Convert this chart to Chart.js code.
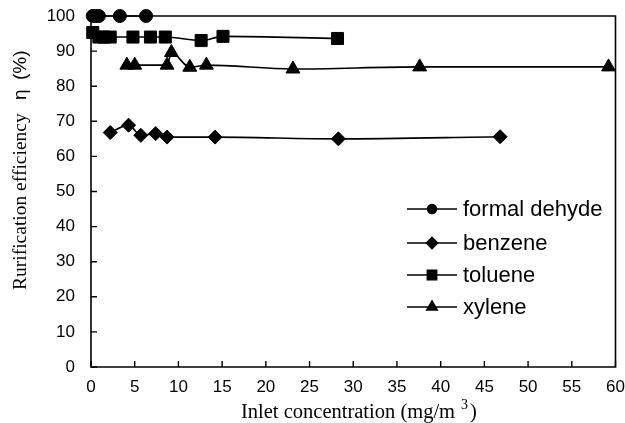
<!DOCTYPE html>
<html>
<head>
<meta charset="utf-8">
<script src="https://cdn.jsdelivr.net/npm/chart.js@4/dist/chart.umd.min.js"></script>
<style>
  html, body { margin: 0; padding: 0; background: #fff; }
  #wrap { width: 625px; height: 423px; position: relative; }
</style>
</head>
<body>
<div id="wrap"><canvas id="chart"></canvas></div>
<script>
// ---------------------------------------------------------------------------
// Data
// ---------------------------------------------------------------------------
const seriesNames = ['formal dehyde', 'benzene', 'toluene', 'xylene'];
const seriesMarkers = ['circle', 'rectRot', 'rect', 'triangle'];

const formaldehydeX = [0.2, 0.5, 0.9, 3.3, 6.3];
const formaldehydeY = [100, 100, 100, 100, 100];

const benzeneX = [2.2, 4.3, 5.7, 7.4, 8.7, 14.2, 28.3, 46.8];
const benzeneY = [66.8, 68.9, 66.0, 66.5, 65.5, 65.5, 65.0, 65.6];

const tolueneX = [0.2, 0.9, 1.5, 2.2, 4.8, 6.8, 8.5, 12.6, 15.1, 28.2];
const tolueneY = [95.3, 94.0, 94.0, 94.0, 94.0, 94.0, 94.0, 93.0, 94.2, 93.6];

const xyleneX = [4.1, 5.0, 8.7, 9.2, 11.3, 13.2, 23.1, 37.6, 59.2];
const xyleneY = [86.0, 86.0, 86.0, 89.6, 85.4, 86.0, 84.9, 85.5, 85.5];

const xTicks = [0, 5, 10, 15, 20, 25, 30, 35, 40, 45, 50, 55, 60];
const yTicks = [0, 10, 20, 30, 40, 50, 60, 70, 80, 90, 100];

// ---------------------------------------------------------------------------
// Helpers
// ---------------------------------------------------------------------------
const SERIF = '"Liberation Serif", "Times New Roman", serif';
const SANS = '"Liberation Sans", Arial, sans-serif';

function toPoints(xs, ys) {
    return xs.map((x, i) => ({ x: x, y: ys[i] }));
}

const markerRadius = { circle: 6.5, rectRot: 7, rect: 8.5, triangle: 8 };
const legendRadius = { circle: 4.5, rectRot: 5.5, rect: 6.5, triangle: 6 };

function makeDataset(label, xs, ys, marker) {
    return {
        label,
        data: toPoints(xs, ys),
        borderColor: '#000',
        backgroundColor: '#000',
        borderWidth: 1.6,
        pointStyle: marker,
        pointRadius: markerRadius[marker],
        pointBorderWidth: 1,
        pointHoverRadius: markerRadius[marker],
        cubicInterpolationMode: 'monotone',
        clip: 12,
    };
}

// Frame, inward ticks, axis titles and the line+marker legend
const framePlugin = {
    id: 'frameDeco',
    afterDraw(chart) {
        const ctx = chart.ctx;
        const sx = chart.scales.x, sy = chart.scales.y;
        const L = sx.left, R = sx.right, T = sy.top, B = sy.bottom;
        ctx.save();
        ctx.strokeStyle = '#000';
        ctx.fillStyle = '#000';
        ctx.lineWidth = 1.6;
        ctx.beginPath();
        ctx.rect(L, T, R - L, B - T);
        ctx.stroke();

        ctx.lineWidth = 1.4;
        ctx.beginPath();
        xTicks.forEach(v => {
            const px = sx.getPixelForValue(v);
            ctx.moveTo(px, B);
            ctx.lineTo(px, B - 6);
        });
        yTicks.forEach(v => {
            const py = sy.getPixelForValue(v);
            ctx.moveTo(L, py);
            ctx.lineTo(L + 6, py);
        });
        ctx.stroke();

        // x title with superscript
        ctx.textBaseline = 'alphabetic';
        ctx.textAlign = 'left';
        ctx.font = '20.5px ' + SERIF;
        ctx.fillText('Inlet concentration (mg/m', 241, 418);
        ctx.font = '14px ' + SERIF;
        ctx.fillText('3', 461, 409);
        ctx.font = '20.5px ' + SERIF;
        ctx.fillText(')', 470, 418);

        // y title, rotated
        ctx.save();
        ctx.translate(26, 290);
        ctx.rotate(-Math.PI / 2);
        ctx.font = '19.5px ' + SERIF;
        ctx.fillText('Rurification efficiency', 0, 0);
        ctx.font = '19px ' + SANS;
        ctx.fillText('\u03b7', 190, 0);
        ctx.fillText('(%)', 210, 0);
        ctx.restore();

        // legend
        const rowsY = [209, 243, 275, 307];
        const x0 = 407, x1 = 457, tx = 463;
        ctx.font = '22px ' + SANS;
        ctx.textBaseline = 'middle';
        seriesNames.forEach((name, i) => {
            const y = rowsY[i];
            ctx.lineWidth = 1.6;
            ctx.beginPath();
            ctx.moveTo(x0, y);
            ctx.lineTo(x1, y);
            ctx.stroke();
            const m = seriesMarkers[i];
            Chart.helpers.drawPoint(ctx, { pointStyle: m, radius: legendRadius[m], borderWidth: 1 }, (x0 + x1) / 2, y);
            ctx.fillText(name, tx, y + 1);
        });
        ctx.restore();
    }
};

// ---------------------------------------------------------------------------
// Chart
// ---------------------------------------------------------------------------
Chart.defaults.color = '#000';
Chart.defaults.font.family = SANS;

new Chart(document.getElementById('chart'), {
    type: 'line',
    data: {
        datasets: [
            makeDataset(seriesNames[0], formaldehydeX, formaldehydeY, seriesMarkers[0]),
            makeDataset(seriesNames[1], benzeneX, benzeneY, seriesMarkers[1]),
            makeDataset(seriesNames[2], tolueneX, tolueneY, seriesMarkers[2]),
            makeDataset(seriesNames[3], xyleneX, xyleneY, seriesMarkers[3]),
        ]
    },
    options: {
        responsive: true,
        maintainAspectRatio: false,
        animation: false,
        layout: { padding: { left: 0, top: 16, right: 8, bottom: 0 } },
        plugins: {
            legend: { display: false },
            tooltip: { enabled: false },
        },
        scales: {
            x: {
                type: 'linear',
                min: 0,
                max: 60,
                afterBuildTicks: (s) => { s.ticks = xTicks.map(v => ({ value: v })); },
                afterFit: (s) => { s.height = 56; s.paddingRight = 0; s.paddingLeft = 0; },
                grid: { display: false, drawTicks: false },
                border: { display: false },
                ticks: { font: { size: 17 }, padding: 10, maxRotation: 0, autoSkip: false },
            },
            y: {
                min: 0,
                max: 100,
                afterBuildTicks: (s) => { s.ticks = yTicks.map(v => ({ value: v })); },
                afterFit: (s) => { s.width = 91; s.paddingTop = 0; s.paddingBottom = 0; },
                grid: { display: false, drawTicks: false },
                border: { display: false },
                ticks: { font: { size: 17 }, padding: 16 },
            },
        },
    },
    plugins: [framePlugin],
});
</script>
</body>
</html>
